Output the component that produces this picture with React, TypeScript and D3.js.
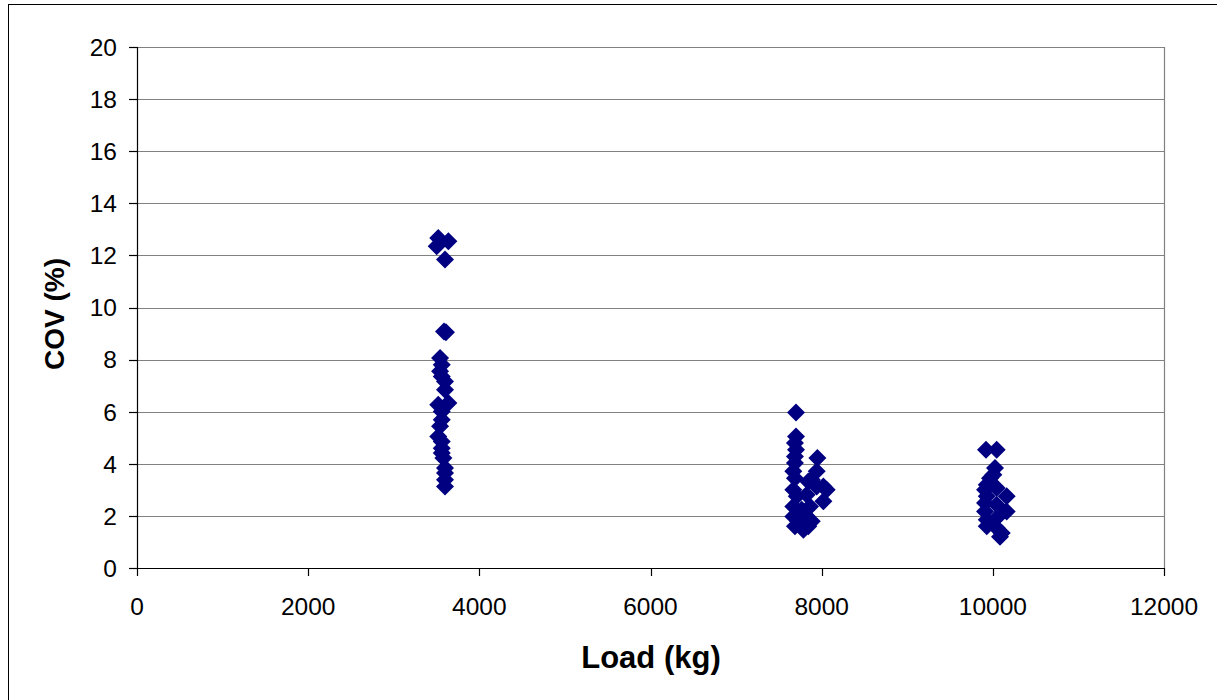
import React from "react";
import * as d3 from "d3";

const loadKg = [
  3520, 3502, 3638, 3599, 3587, 3610, 3541, 3561, 3541, 3561, 3599, 3599, 3638, 3520, 3561, 3561, 3541, 3520, 3561, 3561, 3561, 3580, 3599, 3599, 3599, 3599,
  7700, 7700, 7688, 7700, 7688, 7688, 7950, 7942, 7669, 7688, 8020, 7884, 8059, 8020, 7669, 7709, 7825, 7669, 7864, 7669, 7884, 7688, 7786, 7844, 7727, 7825, 7767, 7942, 7844,
  9920, 10045, 10025, 10006, 9967, 9929, 9909, 10045, 10162, 9929, 9909, 10045, 10162, 9909, 9929, 10045, 9929, 10104, 10084, 10045,
];
const covPct = [
  12.67, 12.35, 12.54, 11.84, 9.08, 9.05, 8.06, 7.8, 7.55, 7.35, 7.16, 6.84, 6.33, 6.27, 6.01, 5.69, 5.44, 5.05, 4.86, 4.6, 4.41, 4.22, 3.84, 3.65, 3.39, 3.13,
  5.97, 5.05, 4.8, 4.54, 4.28, 4.03, 4.22, 3.71, 3.71, 3.45, 3.13, 3.39, 3.0, 2.56, 3.0, 2.75, 2.81, 2.36, 2.36, 1.98, 1.79, 1.6, 1.47, 1.6, 1.79, 1.98, 2.24, 3.13, 3.32,
  4.54, 4.54, 3.84, 3.58, 3.45, 3.2, 3.0, 3.07, 2.75, 2.75, 2.5, 2.43, 2.17, 2.17, 1.85, 1.92, 1.6, 1.34, 1.2, 1.54,
];
const xTicks = [0, 2000, 4000, 6000, 8000, 10000, 12000];
const yTicks = [0, 2, 4, 6, 8, 10, 12, 14, 16, 18, 20];
const xTitle = "Load (kg)";
const yTitle = "COV (%)";

export default function App() {
  const left = 137, right = 1164, top = 47, bottom = 568;
  const x = d3.scaleLinear().domain([0, 12000]).range([left, right]);
  const y = d3.scaleLinear().domain([0, 20]).range([bottom, top]);
  const diamond = d3.symbol().type(d3.symbolSquare).size(162)();
  const font = "Arial, 'Liberation Sans', sans-serif";
  return (
    <svg width={1217} height={700} style={{ position: "absolute", left: 0, top: 0 }} fontFamily={font}>
      <rect x={0} y={0} width={1217} height={700} fill="#fff" />
      <rect x={8.5} y={4.5} width={1240} height={720} fill="none" stroke="#000" strokeWidth={1} />
      {yTicks.filter((t) => t > 0).map((t) => (
        <line key={"g" + t} x1={left} x2={right} y1={Math.round(y(t)) + 0.5} y2={Math.round(y(t)) + 0.5} stroke="#808080" strokeWidth={1.2} />
      ))}
      <line x1={right + 0.5} x2={right + 0.5} y1={top} y2={bottom} stroke="#808080" strokeWidth={1.2} />
      <line x1={left + 0.5} x2={left + 0.5} y1={top} y2={bottom + 0.5} stroke="#000" strokeWidth={1.2} />
      <line x1={left} x2={right + 1} y1={bottom + 0.5} y2={bottom + 0.5} stroke="#000" strokeWidth={1.2} />
      {yTicks.map((t) => (
        <g key={"y" + t}>
          <line x1={left - 8} x2={left} y1={Math.round(y(t)) + 0.5} y2={Math.round(y(t)) + 0.5} stroke="#000" strokeWidth={1.2} />
          <text x={left - 20} y={y(t)} dy="0.36em" textAnchor="end" fontSize={24.5}>{t}</text>
        </g>
      ))}
      {xTicks.map((t) => (
        <g key={"x" + t}>
          <line x1={Math.round(x(t)) + 0.5} x2={Math.round(x(t)) + 0.5} y1={bottom} y2={bottom + 8} stroke="#000" strokeWidth={1.2} />
          <text x={x(t)} y={615} textAnchor="middle" fontSize={24.5}>{t}</text>
        </g>
      ))}
      {loadKg.map((l, i) => (
        <path key={"p" + i} d={diamond} transform={`translate(${x(l)},${y(covPct[i])}) rotate(45)`} fill="#000080" />
      ))}
      <text x={651} y={668} textAnchor="middle" fontSize={31} fontWeight="bold">{xTitle}</text>
      <text transform={`translate(64,314) rotate(-90)`} textAnchor="middle" fontSize={28} fontWeight="bold">{yTitle}</text>
    </svg>
  );
}
